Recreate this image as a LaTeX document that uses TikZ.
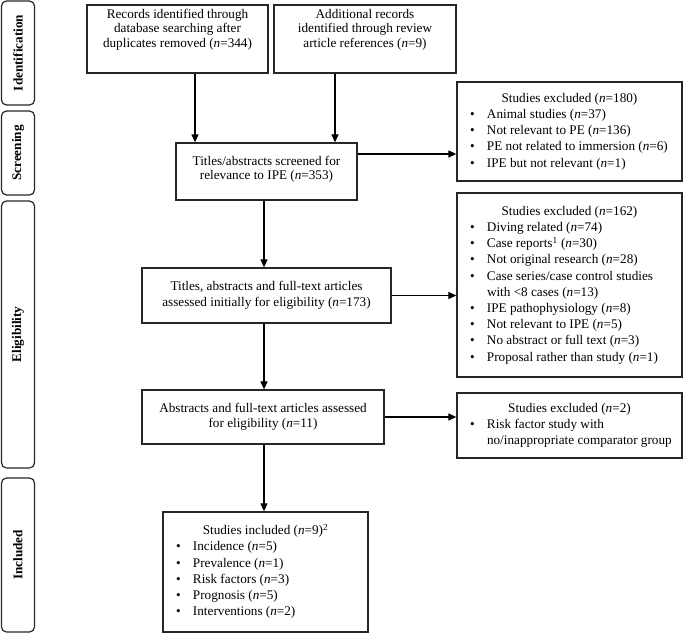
\documentclass[tikz,border=0pt]{standalone}
\usepackage{fontspec}
\setmainfont{Liberation Serif}
\usetikzlibrary{arrows.meta}
\begin{document}
\begin{tikzpicture}[x=1pt,y=-1pt,
  box/.style={draw=black!85, line width=1.3pt, inner sep=0pt, align=center, font=\fontsize{13.2}{15.5}\selectfont},
  side/.style={draw=black!85, line width=1.2pt, rounded corners=5pt, minimum width=33pt, inner sep=0pt},
  sidetxt/.style={rotate=90, inner sep=0pt, font=\fontsize{13.2}{15}\selectfont\bfseries},
  txt/.style={align=center, inner sep=0pt, font=\fontsize{13.2}{14.4}\selectfont},
  lst/.style={draw=black!85, line width=1.3pt, inner sep=0pt, font=\fontsize{13.2}{16.2}\selectfont},
  arr/.style={line width=1.2pt, -{Triangle[length=8pt,width=7pt]}}
]
\useasboundingbox (0,0) rectangle (685,634);

% side phase boxes
\node[side, minimum height=104pt] (sid) at (18,53) {};
\node[sidetxt] (sidt) at (sid.center) {Identification};
\node[side, minimum height=84pt] (sscr) at (18,153) {};
\node[sidetxt] (sscrt) at (sscr.center) {Screening};
\node[side, minimum height=267pt] (selg) at (18,334.5) {};
\node[sidetxt] (selgt) at (selg.center) {Eligibility};
\node[side, minimum height=154pt] (sinc) at (18,555) {};
\node[sidetxt] (sinct) at (sinc.center) {Included};

% identification boxes
\node[box, minimum width=181pt, minimum height=68pt] (rec1) at (177.5,39) {};
\node[txt] (rec1t) at (177.5,29.5) {Records identified through\\database searching after\\duplicates removed (\textit{n}=344)};
\node[box, minimum width=182pt, minimum height=68pt] (rec2) at (365,39) {};
\node[txt] (rec2t) at (365,29.5) {Additional records\\identified through review\\article references (\textit{n}=9)};

% screening
\node[box, minimum width=181pt, minimum height=57pt] (scr) at (266.5,171.5) {};
\node[txt] (scrt) at (266.5,169.5) {Titles/abstracts screened for\\relevance to IPE (\textit{n}=353)};

% eligibility
\node[box, minimum width=249pt, minimum height=55pt] (el1) at (266.5,295.5) {Titles, abstracts and full-text articles\\assessed initially for eligibility (\textit{n}=173)};
\node[box, minimum width=242pt, minimum height=54pt] (el2) at (263,417) {Abstracts and full-text articles assessed\\for eligibility (\textit{n}=11)};

% included
\node[lst, minimum width=205pt, minimum height=120pt] (inc) at (265.5,572) {%
\begin{tabular}{@{\hspace{13pt}}p{17pt}@{}p{175pt}@{}}
\multicolumn{2}{c}{Studies included (\textit{n}=9)\textsuperscript{2}}\\
\textbullet & Incidence (\textit{n}=5)\\
\textbullet & Prevalence (\textit{n}=1)\\
\textbullet & Risk factors (\textit{n}=3)\\
\textbullet & Prognosis (\textit{n}=5)\\
\textbullet & Interventions (\textit{n}=2)
\end{tabular}};

% excluded boxes
\node[lst, minimum width=225pt, minimum height=99pt] (ex1) at (569.5,131.5) {%
\begin{tabular}{@{\hspace{13pt}}p{17pt}@{}p{195pt}@{}}
\multicolumn{2}{c}{Studies excluded (\textit{n}=180)}\\
\textbullet & Animal studies (\textit{n}=37)\\
\textbullet & Not relevant to PE (\textit{n}=136)\\
\textbullet & PE not related to immersion (\textit{n}=6)\\
\textbullet & IPE but not relevant (\textit{n}=1)
\end{tabular}};

\node[lst, minimum width=225pt, minimum height=184pt] (ex2) at (569.5,285) {%
\begin{tabular}{@{\hspace{13pt}}p{17pt}@{}p{195pt}@{}}
\multicolumn{2}{c}{Studies excluded (\textit{n}=162)}\\
\textbullet & Diving related (\textit{n}=74)\\
\textbullet & Case reports\textsuperscript{1} (\textit{n}=30)\\
\textbullet & Not original research (\textit{n}=28)\\
\textbullet & Case series/case control studies\newline with <8 cases (\textit{n}=13)\\
\textbullet & IPE pathophysiology (\textit{n}=8)\\
\textbullet & Not relevant to IPE (\textit{n}=5)\\
\textbullet & No abstract or full text (\textit{n}=3)\\
\textbullet & Proposal rather than study (\textit{n}=1)
\end{tabular}};

\node[lst, minimum width=225pt, minimum height=65pt] (ex3) at (569.5,425.5) {%
\begin{tabular}{@{\hspace{13pt}}p{17pt}@{}p{195pt}@{}}
\multicolumn{2}{c}{Studies excluded (\textit{n}=2)}\\
\textbullet & Risk factor study with\newline no/inappropriate comparator group
\end{tabular}};

% connectors
\coordinate (a1) at (195,0);
\coordinate (a2) at (335,0);
\coordinate (a3) at (264,0);
\coordinate (h1) at (0,154);
\draw[arr] (rec1.south -| a1) -- (scr.north -| a1);
\draw[arr] (rec2.south -| a2) -- (scr.north -| a2);
\draw[arr] (scr.east |- h1) -- (ex1.west |- h1);
\draw[arr] (scr.south -| a3) -- (el1.north -| a3);
\draw[arr] (el1.east) -- (ex2.west |- el1.east);
\draw[arr] (el1.south -| a3) -- (el2.north -| a3);
\draw[arr] (el2.east) -- (ex3.west |- el2.east);
\draw[arr] (el2.south -| a3) -- (inc.north -| a3);
\end{tikzpicture}
\end{document}
